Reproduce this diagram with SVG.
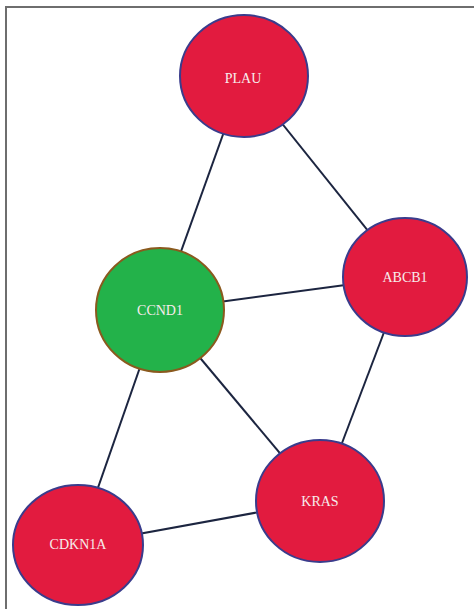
<svg xmlns="http://www.w3.org/2000/svg" width="474" height="609" viewBox="0 0 474 609">
<style>
.edge{stroke:#1c2540;stroke-width:2;fill:none}
.red{fill:#e21b3f;stroke:#3a3c8c;stroke-width:2}
.green{fill:#23b24a;stroke:#8a5a1e;stroke-width:2}
.lbl{font-family:"Liberation Serif","Times New Roman",serif;font-size:14px;fill:#f7ecec;text-anchor:middle;dominant-baseline:central}
</style>
<rect width="474" height="609" fill="#ffffff"/>
<g id="frame" stroke="#6e6e6e" stroke-width="2" fill="none">
<line x1="5" y1="7" x2="474" y2="7"/>
<line x1="6" y1="6" x2="6" y2="609"/>
</g>
<g id="connectors">
<line class="edge" x1="244" y1="76" x2="160" y2="310"/>
<line class="edge" x1="244" y1="76" x2="405" y2="277"/>
<line class="edge" x1="160" y1="310" x2="405" y2="277"/>
<line class="edge" x1="160" y1="310" x2="320" y2="501"/>
<line class="edge" x1="160" y1="310" x2="78" y2="545"/>
<line class="edge" x1="405" y1="277" x2="320" y2="501"/>
<line class="edge" x1="78" y1="545" x2="320" y2="501"/>
</g>
<g id="PLAU"><ellipse class="red" cx="244" cy="76" rx="64" ry="61"/><text class="lbl" x="243" y="78">PLAU</text></g>
<g id="ABCB1"><ellipse class="red" cx="405" cy="277" rx="62" ry="59"/><text class="lbl" x="405" y="277">ABCB1</text></g>
<g id="CCND1"><ellipse class="green" cx="160" cy="310" rx="64" ry="62"/><text class="lbl" x="160" y="310">CCND1</text></g>
<g id="KRAS"><ellipse class="red" cx="320" cy="501" rx="64" ry="61"/><text class="lbl" x="320" y="501">KRAS</text></g>
<g id="CDKN1A"><ellipse class="red" cx="78" cy="545" rx="65" ry="60"/><text class="lbl" x="78" y="544">CDKN1A</text></g>
</svg>
